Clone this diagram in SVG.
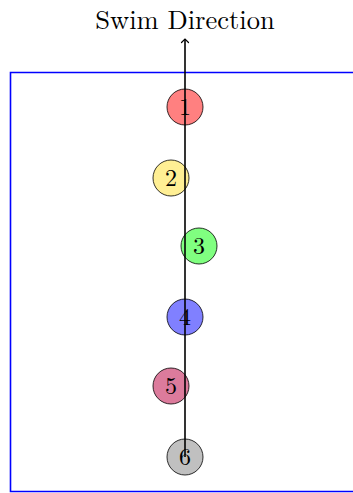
<svg xmlns="http://www.w3.org/2000/svg" width="353" height="493" viewBox="0 0 353 493">
<defs>
<style>
.n{stroke:#000;stroke-width:0.8}
.t{font-family:"Latin Modern Roman","DejaVu Serif","Liberation Serif",serif;font-size:24px;text-anchor:middle;fill:#000}
.h{font-size:26.5px}
</style>
<marker id="ah" markerWidth="10" markerHeight="10" refX="5" refY="5" orient="auto" markerUnits="userSpaceOnUse">
<path d="M1.5,1.5 Q4,4 5,5 Q4,6 1.5,8.5" fill="none" stroke="#000" stroke-width="1.2" stroke-linecap="round"/>
</marker>
</defs>
<rect x="0" y="0" width="353" height="493" fill="#fff"/>
<path d="M400,72.5 H10.5 V491.5 H400" fill="none" stroke="#0000ff" stroke-width="1.6"/>
<text class="t h" x="185" y="28.5">Swim Direction</text>
<g id="n1"><circle class="n" cx="185" cy="107" r="18" fill="#ff8080"/><text class="t" x="185" y="115">1</text></g>
<g id="n2"><circle class="n" cx="171" cy="178" r="18" fill="#ffef94"/><text class="t" x="171" y="186">2</text></g>
<g id="n3"><circle class="n" cx="199" cy="246" r="18" fill="#80ff80"/><text class="t" x="199" y="254">3</text></g>
<g id="n4"><circle class="n" cx="185" cy="317" r="18" fill="#8080ff"/><text class="t" x="185" y="325">4</text></g>
<g id="n5"><circle class="n" cx="171" cy="386" r="18" fill="#dc7b9c"/><text class="t" x="171" y="394">5</text></g>
<g id="n6"><circle class="n" cx="185" cy="457" r="18" fill="#c0c0c0"/><text class="t" x="185" y="465">6</text></g>
<g id="connectors">
<line x1="185" y1="457" x2="185" y2="39" stroke="#000" stroke-width="1.6" marker-end="url(#ah)"/>
</g>
</svg>
